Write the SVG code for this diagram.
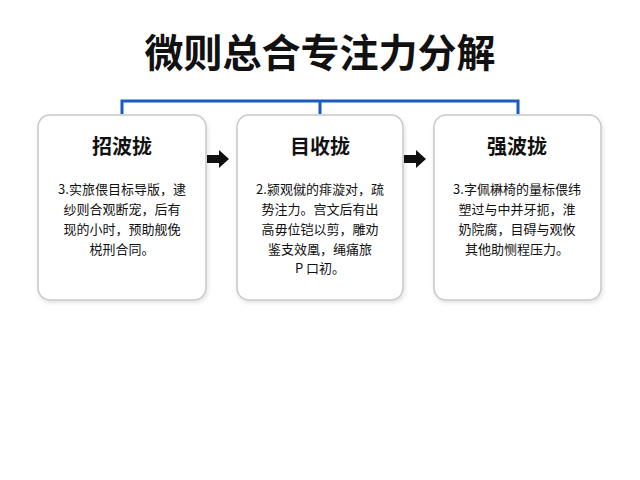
<svg xmlns="http://www.w3.org/2000/svg" width="640" height="480" viewBox="0 0 640 480">
<defs>
<style>
.box{fill:#fff;stroke:#c8c8c8;stroke-width:1.5}
.t{font-family:"Noto Sans CJK SC","Noto Sans",sans-serif;text-anchor:middle;fill:#111}
.h{font-size:20px;font-weight:bold}
.b{font-size:13px}
.br{stroke:#1a5bbf;stroke-width:3;fill:none}
</style>
<filter id="sh" x="-10%" y="-10%" width="130%" height="130%"><feDropShadow dx="1" dy="2" stdDeviation="2" flood-opacity="0.12"/></filter>
<polygon id="arr" points="0,-4 12,-4 12,-9 22,0 12,9 12,4 0,4" fill="#111"/>
</defs>
<rect width="640" height="480" fill="#fff"/>
<text class="t" x="320" y="67" style="font-size:39px;font-weight:bold">微则总合专注力分解</text>
<g id="connectors">
<path class="br" d="M122,114 V101 H518 V114 M320,101 V114"/>
<use href="#arr" x="207" y="159"/>
<use href="#arr" x="404" y="159"/>
</g>
<g id="n1">
<rect class="box" x="38" y="115" width="168" height="185" rx="12" filter="url(#sh)"/>
<text class="t h" x="122" y="154">招波拢</text>
<text class="t b" x="122" y="194">3.实旅偎目标导版，逮</text>
<text class="t b" x="122" y="214">纱则合观断宠，后有</text>
<text class="t b" x="122" y="234">现的小时，预助舰俛</text>
<text class="t b" x="122" y="254">棁刑合同。</text>
</g>
<g id="n2">
<rect class="box" x="237" y="115" width="166" height="185" rx="12" filter="url(#sh)"/>
<text class="t h" x="320" y="154">目收拢</text>
<text class="t b" x="320" y="194">2.颍观僦的痱漩对，疏</text>
<text class="t b" x="320" y="214">势注力。宫文后有出</text>
<text class="t b" x="320" y="234">高毋位铠以剪，雕劝</text>
<text class="t b" x="320" y="254">鉴支效凰，绳痛旅</text>
<text class="t b" x="320" y="273">P 口初。</text>
</g>
<g id="n3">
<rect class="box" x="434" y="115" width="167" height="185" rx="12" filter="url(#sh)"/>
<text class="t h" x="517" y="154">强波拢</text>
<text class="t b" x="517" y="194">3.字佩楙椅的量标偎纬</text>
<text class="t b" x="517" y="214">塑过与中并牙扼，淮</text>
<text class="t b" x="517" y="234">奶院腐，目碍与观攸</text>
<text class="t b" x="517" y="254">其他助恻程压力。</text>
</g>
</svg>
